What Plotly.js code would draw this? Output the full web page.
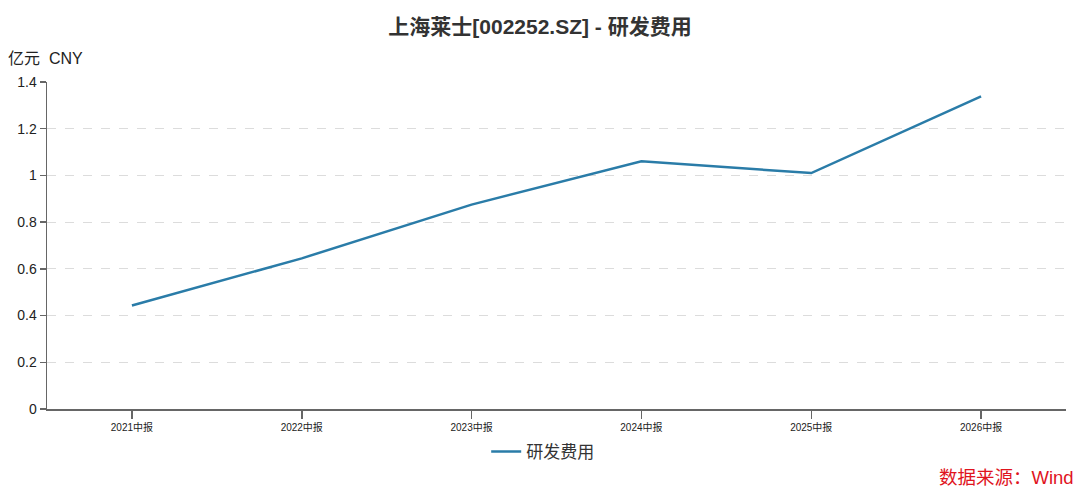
<!DOCTYPE html>
<html>
<head>
<meta charset="utf-8">
<script src="https://cdn.plot.ly/plotly-3.0.1.min.js"></script>
<style>
  html, body { margin: 0; padding: 0; background: #fff; }
  #chart { width: 1080px; height: 503px; }
</style>
</head>
<body>
<div id="chart"></div>
<script>
// 上海莱士 研发费用 (亿元)
var periods = ['2021中报', '2022中报', '2023中报', '2024中报', '2025中报', '2026中报'];
var rdCost = [0.443, 0.645, 0.875, 1.061, 1.010, 1.338];
var yTicks = [0, 0.2, 0.4, 0.6, 0.8, 1, 1.2, 1.4];

var FONT = 'Liberation Sans, Helvetica, Arial, "Noto Sans CJK SC", sans-serif';

var trace = {
  x: periods,
  y: rdCost,
  type: 'scatter',
  mode: 'lines',
  name: '研发费用',
  line: { color: '#2a7ca8', width: 2.5 },
  hoverinfo: 'x+y'
};

var layout = {
  width: 1080,
  height: 503,
  margin: { l: 47, r: 14, t: 82, b: 94 },
  paper_bgcolor: '#fff',
  plot_bgcolor: '#fff',
  font: { family: FONT, color: '#333' },
  title: {
    text: '<b>上海莱士[002252.SZ] - 研发费用</b>',
    font: { size: 21, color: '#333', family: FONT },
    x: 0.5, xanchor: 'center',
    y: 0.948, yanchor: 'middle'
  },
  xaxis: {
    type: 'category',
    range: [-0.5, 5.5],
    showline: true,
    linecolor: '#666',
    linewidth: 1.5,
    ticks: 'outside',
    ticklen: 8,
    tickcolor: '#666',
    tickwidth: 1.5,
    showgrid: false,
    zeroline: false,
    tickfont: { size: 10, color: '#222' },
    fixedrange: true
  },
  yaxis: {
    range: [0, 1.4],
    tickvals: yTicks,
    ticktext: yTicks.map(String),
    showline: true,
    linecolor: '#666',
    linewidth: 1.5,
    ticks: 'outside',
    ticklen: 6,
    tickcolor: '#666',
    tickwidth: 1.5,
    showgrid: true,
    gridcolor: '#dcdcdc',
    griddash: 'dash',
    gridwidth: 1,
    zeroline: false,
    tickfont: { size: 14, color: '#222' },
    fixedrange: true
  },
  showlegend: true,
  legend: {
    orientation: 'h',
    x: 0.431, xanchor: 'left',
    y: -0.131, yanchor: 'middle',
    font: { size: 17, color: '#333' },
    itemwidth: 30
  },
  annotations: [
    {
      text: '亿元  CNY',
      xref: 'paper', yref: 'paper',
      x: -0.04, xanchor: 'left',
      y: 1.072, yanchor: 'middle',
      showarrow: false,
      font: { size: 16, color: '#222' }
    },
    {
      text: '数据来源：Wind',
      xref: 'paper', yref: 'paper',
      x: 1.01, xanchor: 'right',
      y: -0.211, yanchor: 'middle',
      showarrow: false,
      font: { size: 18.5, color: '#e0141e' }
    }
  ]
};

Plotly.newPlot('chart', [trace], layout, { displayModeBar: false, staticPlot: true });
</script>
</body>
</html>
